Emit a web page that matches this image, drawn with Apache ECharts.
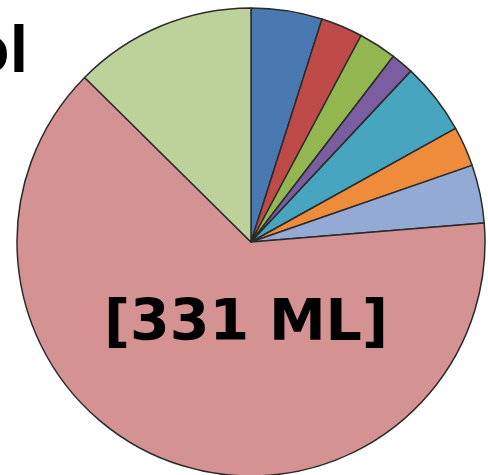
<!DOCTYPE html>
<html>
<head>
<meta charset="utf-8">
<script src="https://cdn.jsdelivr.net/npm/echarts/dist/echarts.min.js"></script>
<style>
  html, body { margin: 0; padding: 0; background: #fff; }
  #main { width: 488px; height: 475px; }
</style>
</head>
<body>
<div id="main"></div>
<script>
// slice values (ML), clockwise from 12 o'clock
var names = ['A', 'B', 'C', 'D', 'E', 'F', 'G', 'H', 'I'];
var values = [25.5, 15, 13.6, 8.1, 25.8, 14.3, 20.9, 331, 65.4];
var colors = ['#4a79b1', '#be4b48', '#94b650', '#7a5ea0', '#47a5bf', '#ef8c3c', '#93abd4', '#d49292', '#bdd29a'];
var bigIndex = 7;

var myChart = echarts.init(document.getElementById('main'));

var data = values.map(function (v, i) {
  return { name: names[i], value: v, itemStyle: { color: colors[i] } };
});

var option = {
  animation: false,
  series: [
    {
      type: 'pie',
      center: [251, 242],
      radius: 234,
      startAngle: 90,
      clockwise: true,
      label: { show: false },
      labelLine: { show: false },
      emphasis: { disabled: true },
      itemStyle: {
        borderColor: '#2b2b2b',
        borderWidth: 1.5
      },
      data: data
    }
  ],
  graphic: [
    {
      type: 'text',
      z: 100,
      x: 246,
      y: 325,
      style: {
        text: '[' + values[bigIndex] + ' ML]',
        font: 'bold 57px "DejaVu Sans"',
        fill: '#000',
        textAlign: 'center',
        textVerticalAlign: 'middle'
      }
    },
    {
      type: 'text',
      z: 100,
      x: 28,
      y: 21,
      style: {
        text: 'ol',
        font: 'bold 66px "Liberation Sans"',
        fill: '#000',
        textAlign: 'right'
      }
    }
  ]
};

myChart.setOption(option);
</script>
</body>
</html>
